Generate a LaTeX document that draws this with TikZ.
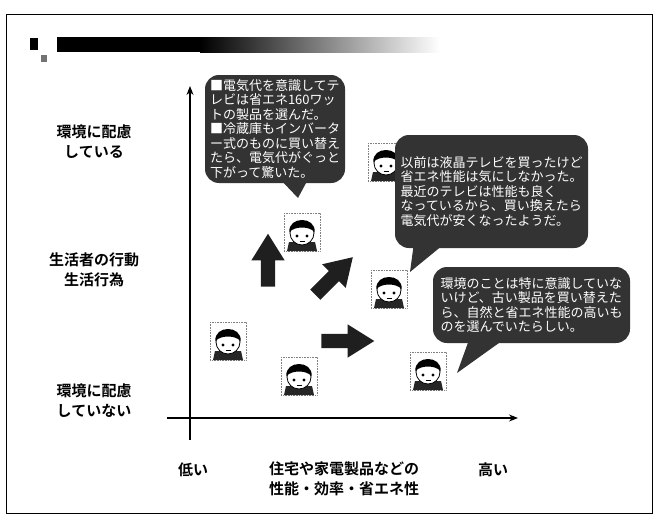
\documentclass[tikz,border=0pt]{standalone}
\usepackage{fontspec}
\usetikzlibrary{shapes.arrows,arrows.meta}
\newfontfamily\jp{Noto Sans CJK JP}[BoldFont={Noto Sans CJK JP Bold}]

\tikzset{
  axisline/.style={line width=1.1pt, -{Stealth[length=9pt,width=7pt]}},
  axislabel/.style={font=\jp\bfseries\fontsize{15}{20}\selectfont, align=center, inner sep=0pt},
  bubblefill/.style={fill=black!80},
  bubble/.style={bubblefill, rounded corners=14pt, inner sep=0pt,
    font=\jp\fontsize{13}{14.5}\selectfont, text=white, align=left},
  blockarrow/.style={single arrow, fill=black!88, draw=none, inner sep=7pt,
    minimum height=53pt, single arrow head extend=9.5pt,
    single arrow tip angle=64},
  kid/.pic={
    \node[inner sep=0pt, minimum width=36pt, minimum height=38pt] (-box) {};
    \draw[gray, densely dotted, line width=0.6pt] (-18,-19) rectangle (18,19);
    % shoulders
    \fill[black!85] (-15,19) -- (-13,10) -- (13,10) -- (15,19) -- cycle;
    % face
    \draw[fill=white, line width=0.8pt] (0,1) circle (12);
    % hair
    \fill (-12.6,0) .. controls (-14,-16) and (14,-16) .. (12.6,0)
          .. controls (7,-6) and (-7,-6) .. cycle;
    % eyes and mouth
    \fill (-5,4) circle (1.7);
    \fill (5,4) circle (1.7);
    \draw[line width=0.7pt] (-2.5,9) -- (2.5,9);
  }
}

\begin{document}
\begin{tikzpicture}[x=1pt, y=-1pt]
\useasboundingbox (0,0) rectangle (659,514);

% page frame
\draw[line width=0.9pt] (6,14) rectangle (652,513);

% title bar
\fill (30,38) rectangle (38,50);
\fill (57,37) rectangle (200,52);
\shade[left color=black, right color=white] (200,37) rectangle (440,52);
\fill[black!55] (41,55) rectangle (47,62);

% axes
\coordinate (yfoot) at (190,440);
\coordinate (ytop) at (190,86);
\coordinate (xfoot) at (167,418);
\coordinate (xtip) at (518,418);
\draw[axisline] (yfoot) -- (ytop);
\draw[axisline] (xfoot) -- (xtip);

% axis labels
\node[axislabel] (yhigh) at (94,142) {環境に配慮\\している};
\node[axislabel] (ymid) at (94,270) {生活者の行動\\生活行為};
\node[axislabel] (ylow) at (94,401) {環境に配慮\\していない};
\node[axislabel] (xlow) at (193,470) {低い};
\node[axislabel] (xmid) at (344,479) {住宅や家電製品などの\\性能・効率・省エネ性};
\node[axislabel] (xhigh) at (493,470) {高い};

% people
\pic (kidC) at (228,341) {kid};
\pic (kidD) at (299,376) {kid};
\pic (kidA) at (302,232) {kid};
\pic (kidB) at (389,289) {kid};
\pic (kidE) at (428,371) {kid};
\pic (kidF) at (386,162) {kid};

% block arrows
\node[blockarrow, rotate=90] (upArrow) at (268,266) {};
\node[blockarrow, rotate=45] (diagArrow) at (330,280) {};
\node[blockarrow] (rightArrow) at (342,341) {};

% speech bubbles
\node[bubble, minimum width=140pt, minimum height=108pt] (b1) at (275,129)
  {■電気代を意識してテ\\レビは省エネ160ワッ\\トの製品を選んだ。\\■冷蔵庫もインバータ\\ー式のものに買い替え\\たら、電気代がぐっと\\下がって驚いた。};
\coordinate (b1tip) at (298,198);
\fill[bubblefill] ([xshift=7pt,yshift=2pt]b1.south) -- (b1tip) -- ([xshift=32pt,yshift=2pt]b1.south) -- cycle;

\node[bubble, minimum width=193pt, minimum height=113pt] (b2) at (491.5,191.5)
  {以前は液晶テレビを買ったけど\\省エネ性能は気にしなかった。\\最近のテレビは性能も良く\\なっているから、買い換えたら\\電気代が安くなったようだ。};
\coordinate (b2tip) at (410,272);
\fill[bubblefill] ([xshift=-78pt,yshift=2pt]b2.south) -- (b2tip) -- ([xshift=-50pt,yshift=2pt]b2.south) -- cycle;

\node[bubble, minimum width=197pt, minimum height=76pt] (b3) at (531.5,305)
  {環境のことは特に意識していな\\いけど、古い製品を買い替えた\\ら、自然と省エネ性能の高いも\\のを選んでいたらしい。};
\coordinate (b3tip) at (457,373);
\fill[bubblefill] ([xshift=-63pt,yshift=2pt]b3.south) -- (b3tip) -- ([xshift=-30pt,yshift=2pt]b3.south) -- cycle;
\end{tikzpicture}
\end{document}
